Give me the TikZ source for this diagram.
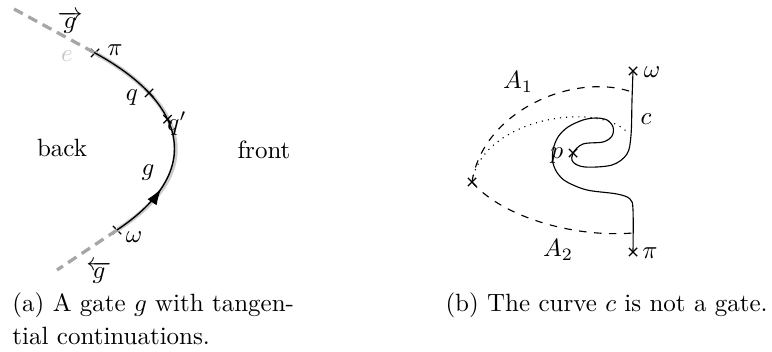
\documentclass[tikz,border=0pt]{standalone}
\usetikzlibrary{positioning,shapes.misc,arrows.meta,decorations.markings}
\tikzset{
  xmark/.style={cross out,draw,minimum size=2.8pt,inner sep=0pt,line width=0.5pt},
  gatehl/.style={line width=1.7pt,gray!40},
  gatedash/.style={line width=1.3pt,gray!70,dash pattern=on 4pt off 2.5pt},
  gatecurve/.style={line width=0.55pt},
  arcline/.style={line width=0.45pt},
}
\begin{document}
\begin{tikzpicture}[x=0.4pt,y=-0.4pt]
\useasboundingbox (0,0) rectangle (772,352);
% (a) the gate
\coordinate (gin) at (14,9);
\coordinate (gout) at (57,270);
\node[xmark] (pi) at (95,53) {};
\node[xmark] (om) at (117,230) {};
\draw[gatedash] (gin) -- (pi.center);
\draw[gatedash] (om.center) -- (gout);
\draw[gatehl,xshift=0.6pt,yshift=-0.5pt] (pi.center) .. controls (185,102) and (207,170) .. (om.center);
\draw[gatecurve,postaction={decorate},
  decoration={markings,mark=at position 0.26 with {\arrow{Latex[length=6.5pt,width=4.4pt]}}}]
  (om.center) .. controls (207,170) and (185,102) .. (pi.center)
  node[pos=0.75,xmark] (q) {}
  node[pos=0.6,xmark] (qq) {};
\node[inner sep=1pt] (gfw) at (70,22) {$\overrightarrow{g}$};
\node[gray!45] (e) at (67,56) {$e$};
\node (pilab) at (115,50) {$\pi$};
\node (qlab) at (132,98) {$q$};
\node (qqlab) at (177,124) {$q'$};
\node (glab) at (148,173) {$g$};
\node (omlab) at (134,237) {$\omega$};
\node[inner sep=1pt] (gbw) at (99,272) {$\overleftarrow{g}$};
\node (back) at (62,148) {back};
\node (front) at (264,150) {front};
% (b) not a gate
\node[xmark] (bw) at (633,71) {};
\node[xmark] (bpi) at (633,252) {};
\node[xmark] (bl) at (472,182) {};
\node[xmark] (bp) at (573,153) {};
\draw[arcline] plot[smooth,tension=0.55] coordinates {(bw.center) (632,100) (631,135) (627,154) (612,165)
  (585,167) (573,162) (bp.center) (583,144) (603,142) (612,136) (613,127) (607,120) (596,118)
  (583,120) (568,127) (558,137) (553,150) (553,163) (558,174) (567,182) (587,190) (617,194)
  (630,199) (633,210) (bpi.center)};
\draw[arcline,dashed] (bl.center) .. controls (483,110) and (575,72) .. (632,92);
\draw[arcline,dashed] (bl.center) .. controls (500,215) and (570,238) .. (633,233);
\draw[arcline,dotted] (bl.center) .. controls (482,118) and (598,100) .. (628,133);
\node (bwlab) at (652,72) {$\omega$};
\node (bpilab) at (650,253) {$\pi$};
\node (clab) at (646,119) {$c$};
\node (plab) at (557,156) {$p$};
\node (aone) at (518,82) {$A_1$};
\node (atwo) at (558,250) {$A_2$};
% captions
\node[anchor=base west,inner sep=0pt] (capa) at (12,312) {(a) A gate $g$ with tangen-};
\node[anchor=base west,inner sep=0pt] (capaa) at (12,344) {tial continuations.};
\node[anchor=base west,inner sep=0pt] (capb) at (445,312) {(b) The curve $c$ is not a gate.};
\end{tikzpicture}
\end{document}
